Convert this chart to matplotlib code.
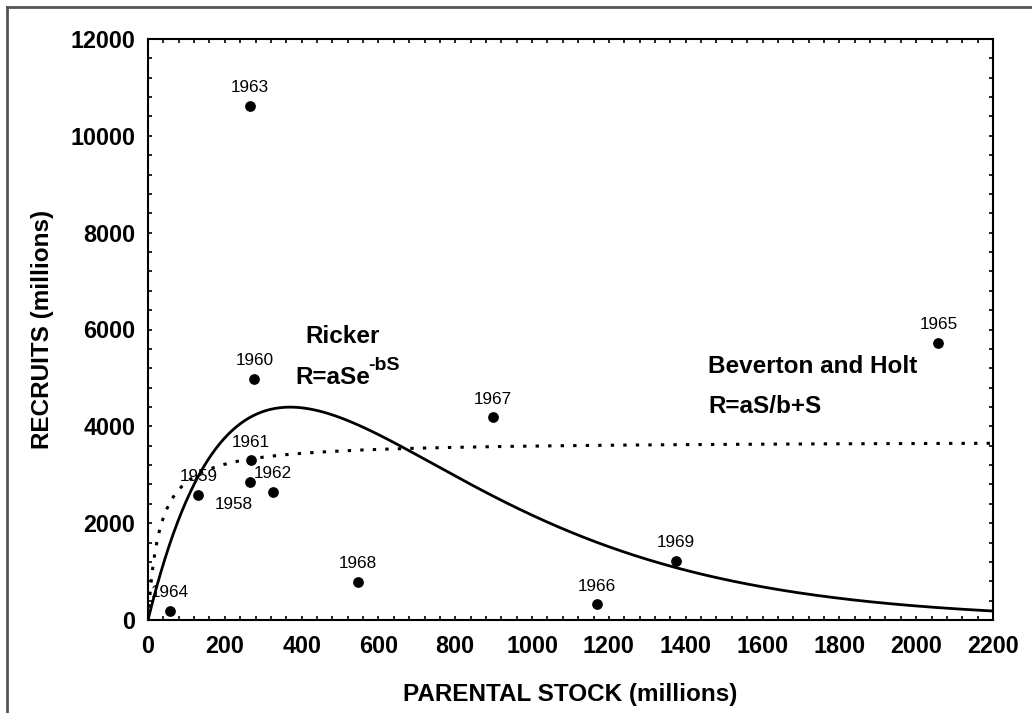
import numpy as np
import matplotlib
matplotlib.use("Agg")
import matplotlib.pyplot as plt
from matplotlib.lines import Line2D

# ---- data ----
years = ["1958", "1959", "1960", "1961", "1962", "1963", "1964",
         "1965", "1966", "1967", "1968", "1969"]
parental_stock = [266, 131, 277, 268, 325, 266, 57, 2058, 1168, 899, 546, 1375]
recruits = [2850, 2590, 4980, 3300, 2650, 10620, 190, 5730, 325, 4190, 795, 1220]

# fitted model parameters
ricker_a, ricker_b = 32.3, 1 / 370.0
bh_a, bh_b = 3700.0, 30.0

x_ticks = list(range(0, 2201, 200))
y_ticks = list(range(0, 12001, 2000))

FONT = "Liberation Sans"

fig = plt.figure(figsize=(10.32, 7.13), dpi=100)
ax = fig.add_axes([148 / 1032, 1 - 620 / 713, (993 - 148) / 1032, (620 - 39) / 713])

S = np.linspace(0, 2200, 600)
ax.plot(S, ricker_a * S * np.exp(-ricker_b * S), color="black", lw=2.0)
ax.plot(S, bh_a * S / (bh_b + S), color="black", lw=2.2,
        linestyle=(0, (1.1, 3.0)))

ax.scatter(parental_stock, recruits, s=45, color="black", zorder=3)

for yr, xv, yv in zip(years, parental_stock, recruits):
    off = (-12, -16) if yr == "1958" else (0, 13)
    ax.annotate(yr, (xv, yv), xytext=off, textcoords="offset points",
                ha="center", va="center", fontsize=12.3, family=FONT)

ax.text(409, 5850, "Ricker", fontsize=17.5, fontweight="bold", family=FONT,
        ha="left", va="center")
ax.text(383, 5000, "R=aSe", fontsize=17.5, fontweight="bold", family=FONT,
        ha="left", va="center")
ax.text(573, 5250, "-bS", fontsize=14, fontweight="bold", family=FONT,
        ha="left", va="center")
ax.text(1458, 5230, "Beverton and Holt", fontsize=17.5, fontweight="bold",
        family=FONT, ha="left", va="center")
ax.text(1458, 4400, "R=aS/b+S", fontsize=17.5, fontweight="bold",
        family=FONT, ha="left", va="center")

ax.set_xlim(0, 2200)
ax.set_ylim(0, 12000)
ax.set_xticks(x_ticks)
ax.set_yticks(y_ticks)
ax.set_xticks(np.arange(0, 2201, 40), minor=True)
ax.set_yticks(np.arange(0, 12001, 400), minor=True)
ax.tick_params(which="both", direction="in", top=True, right=True,
               length=3, width=1.2)
ax.tick_params(axis="x", which="major", pad=11)
ax.tick_params(axis="y", which="major", pad=9)
for lab in ax.get_xticklabels() + ax.get_yticklabels():
    lab.set_family(FONT)
    lab.set_fontweight("bold")
    lab.set_fontsize(16.8)
for sp in ax.spines.values():
    sp.set_linewidth(1.5)

ax.set_xlabel("PARENTAL STOCK (millions)", fontsize=17.5, fontweight="bold",
              family=FONT, labelpad=18)
ax.set_ylabel("RECRUITS (millions)", fontsize=17.5, fontweight="bold",
              family=FONT, labelpad=12)

# partial frame around figure (top and left edges)
fig.add_artist(Line2D([7 / 1032, 1], [1 - 7 / 713, 1 - 7 / 713],
                      transform=fig.transFigure, color="#555555", lw=2))
fig.add_artist(Line2D([7 / 1032, 7 / 1032], [0, 1 - 7 / 713],
                      transform=fig.transFigure, color="#555555", lw=2))

fig.savefig("out.png", dpi=100)
